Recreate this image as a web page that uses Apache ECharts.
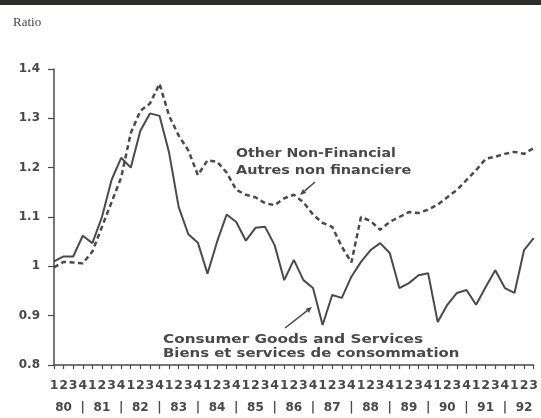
<!DOCTYPE html>
<html>
<head>
<meta charset="utf-8">
<script src="https://cdn.jsdelivr.net/npm/echarts@6/dist/echarts.min.js"></script>
<style>
html,body{margin:0;padding:0;background:#fff;}
#chart{width:541px;height:418px;}
</style>
</head>
<body>
<div id="chart"></div>
<script>
// ---- data ----
const quarterLabels = ['1','2','3','4'];
const yearLabels = ['80','81','82','83','84','85','86','87','88','89','90','91','92'];
const consumerGoods = [1.01,1.02,1.02,1.062,1.047,1.10,1.175,1.22,1.20,1.275,1.31,1.305,1.23,1.12,1.065,1.048,0.985,1.05,1.105,1.09,1.052,1.078,1.08,1.043,0.972,1.013,0.972,0.956,0.881,0.942,0.936,0.979,1.009,1.033,1.047,1.027,0.956,0.966,0.982,0.986,0.887,0.922,0.946,0.952,0.922,0.958,0.992,0.956,0.946,1.033,1.057];
const otherNonFinancial = [0.998,1.009,1.008,1.006,1.03,1.08,1.13,1.18,1.27,1.315,1.33,1.37,1.305,1.265,1.235,1.185,1.215,1.212,1.19,1.155,1.145,1.14,1.128,1.124,1.138,1.145,1.13,1.105,1.088,1.08,1.04,1.008,1.10,1.092,1.074,1.09,1.10,1.11,1.108,1.115,1.125,1.14,1.155,1.175,1.195,1.218,1.222,1.228,1.232,1.228,1.24];
const labelOther = ['Other Non-Financial','Autres non financiere'];
const labelConsumer = ['Consumer Goods and Services','Biens et services de consommation'];

const categories = [];
for (let y = 0; y < yearLabels.length; y++) {
  for (let q = 0; q < 4; q++) {
    if (categories.length < consumerGoods.length) categories.push(yearLabels[y] + 'Q' + quarterLabels[q]);
  }
}

const ink = '#4a4a4a';
const txt = '#484848';
const font = '"DejaVu Sans", sans-serif';

function arrow(x1, y1, x2, y2) {
  const dx = x2 - x1, dy = y2 - y1, L = Math.hypot(dx, dy);
  const ux = dx / L, uy = dy / L, hl = 6, hw = 2.6;
  const bx = x2 - ux * hl, by = y2 - uy * hl;
  return [
    {type:'line', shape:{x1:x1,y1:y1,x2:bx,y2:by}, style:{stroke:ink, lineWidth:1.5}, silent:true},
    {type:'polygon', shape:{points:[[x2,y2],[bx - uy*hw, by + ux*hw],[bx + uy*hw, by - ux*hw]]}, style:{fill:ink}, silent:true}
  ];
}
function label(text, x, y, sx) {
  return {type:'text', x:x, y:y, scaleX:sx, silent:true,
    style:{text:text, font:'bold 12px ' + font, fill:txt, textAlign:'left', textVerticalAlign:'middle', align:'left', verticalAlign:'middle'}};
}

const chart = echarts.init(document.getElementById('chart'), null, {renderer:'canvas'});
chart.setOption({
  animation:false,
  backgroundColor:'#ffffff',
  title:{text:'Ratio', left:8, top:11, textStyle:{fontFamily:'"Liberation Serif", serif', fontSize:13, fontWeight:'normal', color:txt}},
  grid:{left:54, right:5, top:69, bottom:53},
  xAxis:[{
    type:'category', data:categories, boundaryGap:false,
    axisLine:{lineStyle:{color:ink, width:1.5}},
    axisTick:{show:true, interval:0, length:4, lineStyle:{color:ink, width:1.2}},
    axisLabel:{interval:0, margin:14, color:txt, fontFamily:font, fontWeight:'bold', fontSize:12.5,
      formatter:function(v, i){ return quarterLabels[i % 4]; }},
    splitLine:{show:false}
  },{
    type:'category', data:categories, boundaryGap:false, position:'bottom',
    axisLine:{show:false}, axisTick:{show:false},
    axisLabel:{interval:0, margin:37, color:txt, fontFamily:font, fontWeight:'bold', fontSize:12,
      formatter:function(v, i){ return i % 4 === 1 ? yearLabels[Math.floor(i/4)] : (i % 4 === 3 ? '|' : ''); }},
    splitLine:{show:false}
  }],
  yAxis:{
    type:'value', min:0.8, max:1.4, interval:0.1,
    axisLine:{show:true, lineStyle:{color:ink, width:1.5}},
    axisTick:{show:true, length:6, lineStyle:{color:ink, width:1.2}},
    axisLabel:{margin:14, color:txt, fontFamily:font, fontWeight:'bold', fontSize:12},
    splitLine:{show:false}
  },
  series:[{
    name:'Consumer Goods and Services', type:'line', data:consumerGoods, showSymbol:false,
    lineStyle:{color:ink, width:2}
  },{
    name:'Other Non-Financial', type:'line', data:otherNonFinancial, showSymbol:false,
    lineStyle:{color:ink, width:2.5, type:[5,3.5]}
  }],
  graphic:[
    {type:'rect', shape:{x:0,y:0,width:541,height:5}, style:{fill:'#2c3026'}, silent:true},
    label(labelOther[0], 236, 154, 1.18),
    label(labelOther[1], 236, 171, 1.2),
    label(labelConsumer[0], 163, 340, 1.27),
    label(labelConsumer[1], 163, 354, 1.24)
  ].concat(arrow(315, 182, 300, 195)).concat(arrow(285, 328, 312, 307))
});
</script>
</body>
</html>
